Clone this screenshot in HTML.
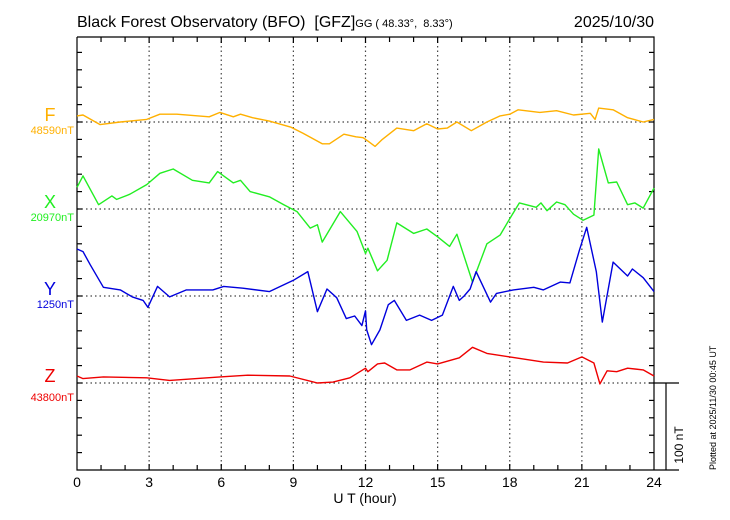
<!DOCTYPE html>
<html><head><meta charset="utf-8"><style>
body{margin:0;background:#fff;width:730px;height:520px;overflow:hidden;font-family:"Liberation Sans",Arial,sans-serif}
svg{display:block}
</style></head><body>
<svg id="chart" width="730" height="520" viewBox="0 0 730 520" font-family="Liberation Sans, Arial, sans-serif">
<text x="77" y="27" font-size="16">Black Forest Observatory (BFO)&#160;&#160;[GFZ]<tspan font-size="11">GG ( 48.33°,&#160;&#160;8.33°)</tspan></text>
<text x="654" y="27" font-size="16" text-anchor="end">2025/10/30</text>
<g id="grid"></g>
<g id="axes"></g>
<g id="series"></g>
<g id="labels"></g>
<text x="365" y="503" font-size="14" text-anchor="middle">U T (hour)</text>
<text transform="translate(683,445) rotate(-90)" font-size="12" text-anchor="middle">100 nT</text>
<text transform="translate(716,470) rotate(-90)" font-size="9">Plotted at 2025/11/30 00:45 UT</text>
</svg>
<script>
const xTicks = [0,3,6,9,12,15,18,21,24];
const fTimes = [0,0.25,0.96,1.8,2.9,3.45,4.15,5.5,5.95,6.5,6.8,7.3,8.0,8.9,9.4,10.2,10.5,11.1,11.6,11.9,12.1,12.4,12.7,13.3,14.0,14.55,15.0,15.4,15.8,16.4,17.05,17.6,18.0,18.35,19.25,19.95,20.65,21.35,21.55,21.7,22.3,22.9,23.55,24];
const fValues = [7,8,-3,0,3,9,9,6,11,6,9,5,1,-6,-13,-25,-25,-14,-17,-18,-22,-28,-20,-7,-10,-2,-8,-7,0,-10,0,7,9,14,11,13,8,10,3,16,14,5,0,3];
const xTimes = [0,0.25,0.9,1.45,1.65,2.2,2.9,3.45,4.0,4.8,5.5,5.85,6.5,6.8,7.2,8.0,8.6,9.15,9.7,10.0,10.2,10.95,11.65,12.0,12.1,12.5,12.9,13.3,14.0,14.55,15.0,15.5,15.8,16.45,17.05,17.6,18.0,18.4,19.1,19.3,19.55,19.95,20.3,20.65,21.05,21.5,21.7,22.1,22.45,22.9,23.2,23.55,24];
const xValues = [25,38,5,15,11,17,28,41,46,33,30,43,30,33,20,14,5,-3,-22,-18,-38,-3,-26,-51,-45,-71,-59,-16,-28,-23,-32,-43,-29,-84,-40,-30,-11,7,2,7,-2,8,5,-6,-13,-7,69,30,31,5,7,1,24];
const yTimes = [0,0.25,0.55,1.1,1.8,2.3,2.75,2.95,3.35,3.85,4.55,5.65,6.1,6.9,8.0,9.0,9.6,10.0,10.4,10.8,11.2,11.55,11.85,12.0,12.05,12.25,12.6,12.95,13.2,13.7,14.25,14.75,15.2,15.65,15.9,16.1,16.35,16.6,17.2,17.45,18.15,19.0,19.4,20.1,20.5,20.9,21.2,21.6,21.85,22.3,22.9,23.1,23.55,24];
const yValues = [54,51,36,10,7,-1,-5,-13,11,-1,7,7,11,9,5,18,28,-18,8,-2,-26,-23,-34,-17,-39,-56,-39,-10,-5,-28,-22,-28,-22,11,-5,0,8,28,-7,3,7,10,7,16,15,53,79,28,-30,39,23,31,21,5];
const zTimes = [0,0.25,1.1,2.9,3.85,5.95,7.1,8.85,10.0,10.65,11.35,12.0,12.1,12.5,12.8,13.3,13.85,14.55,15.0,15.9,16.45,17.05,18.0,19.4,20.4,21.0,21.5,21.75,22.05,22.45,22.9,23.55,24];
const zValues = [8,5,7,6,3,7,9,8,0,1,6,17,13,22,23,15,15,24,22,29,41,34,30,24,23,30,23,-1,14,13,17,15,8];
const compNames = ["F","X","Y","Z"];
const compBaselines = ["48590nT","20970nT","1250nT","43800nT"];

const L=77,R=654,T=37,B=470;
const pxPerNT=0.87;
const baseY=[122,209,296,383];
const colors=["#ffb000","#22ee22","#0000dd","#ee0000"];
const NS="http://www.w3.org/2000/svg";
function xs(h){return L+h*(R-L)/24;}
function ys(i,v){return baseY[i]-v*pxPerNT;}
function mk(tag,attrs,parent){const e=document.createElementNS(NS,tag);for(const k in attrs)e.setAttribute(k,attrs[k]);parent.appendChild(e);return e;}
const grid=document.getElementById('grid'),axes=document.getElementById('axes'),ser=document.getElementById('series'),lab=document.getElementById('labels');

xTicks.slice(1,-1).forEach(h=>{
  const g=mk('line',{x1:xs(h),x2:xs(h),y1:T,y2:B,stroke:'#444','stroke-width':1.2,'stroke-dasharray':'1.5,3'},grid);
  
  
});
baseY.forEach(y=>{
  const g=mk('line',{x1:L,x2:R,y1:y,y2:y,stroke:'#444','stroke-width':1.2,'stroke-dasharray':'1.5,3'},grid);
  
  
});
const fr=mk('path',{d:`M${L},${T}H${R}V${B}M${L},${T}V${B}H679M${R},383H679M666,383V${B}`,fill:'none',stroke:'#000','stroke-width':1.2},axes);


for(let h=1;h<24;h++){
  const big=h%3===0, len=big?6:5;
  const t1=mk('line',{x1:xs(h),x2:xs(h),y1:B,y2:B-len,stroke:'#000','stroke-width':1.2},axes);
  
  
  const t2=mk('line',{x1:xs(h),x2:xs(h),y1:T,y2:T+len,stroke:'#000','stroke-width':1.2},axes);
  
  
}
for(let k=1;k<25;k++){
  const y=B-k*20*pxPerNT;
  const a=mk('line',{x1:L,x2:L+5,y1:y,y2:y,stroke:'#000','stroke-width':1.2},axes);
  
  
  const b=mk('line',{x1:R,x2:R-5,y1:y,y2:y,stroke:'#000','stroke-width':1.2},axes);
  
  
}
xTicks.forEach(h=>{
  const t=mk('text',{x:xs(h),y:487,'font-size':14,'text-anchor':'middle'},lab);
  t.textContent=h;
  
  
});
const allT=[fTimes,xTimes,yTimes,zTimes],allV=[fValues,xValues,yValues,zValues];
const serNames=['f-series-line','x-series-line','y-series-line','z-series-line'];
allT.forEach((ts,i)=>{
  const pts=ts.map((t,j)=>xs(t).toFixed(1)+','+ys(i,allV[i][j]).toFixed(1)).join(' ');
  const p=mk('polyline',{points:pts,fill:'none',stroke:colors[i],'stroke-width':1.4,'stroke-linejoin':'round'},ser);
  
  
  const n=mk('text',{x:50,y:baseY[i]-1,'font-size':18,'text-anchor':'middle',fill:colors[i]},lab);
  n.textContent=compNames[i];
  
  
  const bl=mk('text',{x:74,y:baseY[i]+(i===3?18:12),'font-size':11,'text-anchor':'end',fill:colors[i]},lab);
  bl.textContent=compBaselines[i];
  
  
});
</script>
</body></html>
